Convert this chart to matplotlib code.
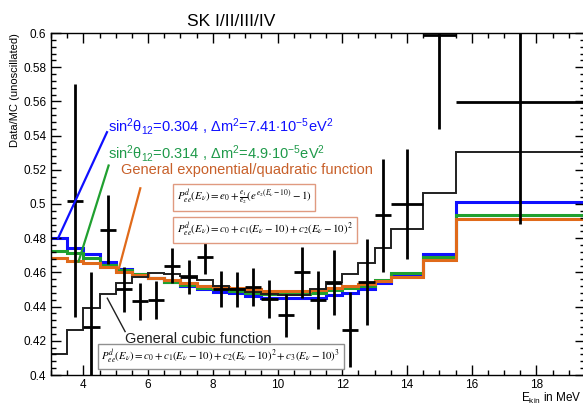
import matplotlib
matplotlib.use("Agg")
from matplotlib import pyplot as plt
from matplotlib.ticker import MultipleLocator, FormatStrFormatter

plt.rcParams['font.family'] = ['Liberation Sans', 'DejaVu Sans']
plt.rcParams['mathtext.fontset'] = 'custom'
plt.rcParams['mathtext.rm'] = 'Liberation Sans'
plt.rcParams['mathtext.it'] = 'Liberation Sans:italic'

# data points (SK I-IV Data/MC ratio)
dataX = [3.75, 4.25, 4.75, 5.25, 5.75, 6.25, 6.75, 7.25, 7.75, 8.25, 8.75, 9.25,
         9.75, 10.25, 10.75, 11.25, 11.75, 12.25, 12.75, 13.25, 14.0, 15.0, 17.5]
dataXErr = [0.25] * 20 + [0.5, 0.5, 2.0]
dataY = [0.502, 0.428, 0.485, 0.450, 0.443, 0.444, 0.464, 0.4575, 0.469, 0.4505,
         0.450, 0.4515, 0.4445, 0.435, 0.460, 0.444, 0.454, 0.4265, 0.4545, 0.4935,
         0.500, 0.599, 0.5595]
dataYErr = [0.068, 0.032, 0.020, 0.013, 0.011, 0.011, 0.010, 0.010, 0.010, 0.0105,
            0.0105, 0.011, 0.011, 0.0125, 0.015, 0.017, 0.019, 0.022, 0.025, 0.033,
            0.032, 0.055, 0.071]

# prediction histograms
binEdges = [3.0, 3.5, 4.0, 4.5, 5.0, 5.5, 6.0, 6.5, 7.0, 7.5, 8.0, 8.5, 9.0,
            9.5, 10.0, 10.5, 11.0, 11.5, 12.0, 12.5, 13.0, 13.5, 14.5, 15.5, 19.5]
blueMC = [0.480, 0.4745, 0.4705, 0.4663, 0.462, 0.459, 0.457, 0.4545, 0.452, 0.450,
          0.4487, 0.4478, 0.4464, 0.4452, 0.4448, 0.4448, 0.4450, 0.4468, 0.4478,
          0.4501, 0.4536, 0.4585, 0.4706, 0.5014]
greenMC = [0.4725, 0.4712, 0.4683, 0.4644, 0.4614, 0.4591, 0.4566, 0.4546, 0.4527,
           0.4507, 0.4500, 0.4493, 0.4482, 0.4476, 0.4474, 0.4474, 0.4480, 0.4497,
           0.4508, 0.4522, 0.4556, 0.4597, 0.4690, 0.4938]
orangeMC = [0.4683, 0.4667, 0.4653, 0.4634, 0.4605, 0.4585, 0.4566, 0.4553, 0.4537,
            0.4521, 0.4514, 0.4508, 0.4500, 0.4493, 0.4490, 0.4490, 0.4495, 0.4508,
            0.4520, 0.4535, 0.4550, 0.4575, 0.4673, 0.4914]
cubicMC = [0.4123, 0.4263, 0.4390, 0.4474, 0.4536, 0.4571, 0.4595, 0.4592, 0.4580,
           0.4555, 0.4522, 0.4500, 0.4485, 0.4472, 0.4465, 0.4468, 0.4500, 0.4546,
           0.4591, 0.4653, 0.4741, 0.4855, 0.5063, 0.5302]

blueCol = '#1010ff'
greenCol = '#20a030'
orangeCol = '#e06a1a'
orangeText = '#c8602a'
greenText = '#1f9a4a'

fig = plt.figure(figsize=(5.83, 4.03), dpi=100)
ax = fig.add_axes([51 / 583, 28 / 403, 534 / 583, 342 / 403])

ax.stairs(blueMC, binEdges, color=blueCol, lw=2.2, baseline=None)
ax.stairs(greenMC, binEdges, color=greenCol, lw=2.2, baseline=None)
ax.stairs(orangeMC, binEdges, color=orangeCol, lw=2.2, baseline=None)
ax.stairs(cubicMC, binEdges, color='#202020', lw=1.4, baseline=None)
ax.errorbar(dataX, dataY, xerr=dataXErr, yerr=dataYErr, fmt='none',
            ecolor='black', elinewidth=2, capsize=0)

ax.set_xlim(3, 19.5)
ax.set_ylim(0.4, 0.6)
ax.xaxis.set_major_locator(MultipleLocator(2))
ax.xaxis.set_minor_locator(MultipleLocator(0.5))
ax.yaxis.set_major_locator(MultipleLocator(0.02))
ax.yaxis.set_minor_locator(MultipleLocator(0.004))
ax.yaxis.set_major_formatter(FormatStrFormatter('%g'))
ax.tick_params(which='both', direction='in', top=True, right=True, labelsize=8.5)
ax.tick_params(which='major', length=7, width=1)
ax.tick_params(which='minor', length=3.5, width=1)
ax.tick_params(axis='x', pad=3)
for s in ax.spines.values():
    s.set_linewidth(1)

# labels for the curves, with pointer lines
ax.plot([3.22, 4.73], [0.480, 0.542], color=blueCol, lw=1.6)
ax.plot([3.85, 4.78], [0.4663, 0.5225], color=greenCol, lw=1.6)
ax.plot([5.1, 5.76], [0.4624, 0.5092], color=orangeCol, lw=1.6)
ax.plot([4.74, 5.29], [0.4449, 0.4254], color='#202020', lw=1)

ax.text(4.77, 0.5425,
        r'sin$\mathrm{^2\theta_{12}}$=0.304 , $\mathrm{\Delta}$m$\mathrm{^2}$=7.41$\mathrm{\cdot}$10$\mathrm{^{-5}}$eV$\mathrm{^2}$',
        color=blueCol, fontsize=10.5, va='baseline')
ax.text(4.77, 0.5267,
        r'sin$\mathrm{^2\theta_{12}}$=0.314 , $\mathrm{\Delta}$m$\mathrm{^2}$=4.9$\mathrm{\cdot}$10$\mathrm{^{-5}}$eV$\mathrm{^2}$',
        color=greenText, fontsize=10.5, va='baseline')
ax.text(5.16, 0.5175, 'General exponential/quadratic function',
        color=orangeText, fontsize=10.5, va='baseline')
ax.text(5.29, 0.4189, 'General cubic function',
        color='#202020', fontsize=10.5, va='baseline')

# formula boxes
ax.text(8.96, 0.5038,
        r'$P^{d}_{ee}(E_{\nu})=e_{0}+\frac{e_{1}}{e_{2}}(e^{e_{2}(E_{\nu}-10)}-1)$',
        math_fontfamily='stix', fontsize=7.8, ha='center', va='center',
        bbox=dict(boxstyle='square,pad=0.35', fc='white', ec='#e09a80', lw=1))
ax.text(9.61, 0.4848,
        r'$P^{d}_{ee}(E_{\nu})=c_{0}+c_{1}(E_{\nu}-10)+c_{2}(E_{\nu}-10)^{2}$',
        math_fontfamily='stix', fontsize=7.8, ha='center', va='center',
        bbox=dict(boxstyle='square,pad=0.35', fc='white', ec='#e09a80', lw=1))
ax.text(8.25, 0.4108,
        r'$P^{d}_{ee}(E_{\nu})=c_{0}+c_{1}(E_{\nu}-10)+c_{2}(E_{\nu}-10)^{2}+c_{3}(E_{\nu}-10)^{3}$',
        math_fontfamily='stix', fontsize=7.8, ha='center', va='center',
        bbox=dict(boxstyle='square,pad=0.3', fc='white', ec='#909090', lw=1))

fig.text(231 / 583, 1 - 21 / 403, 'SK I/II/III/IV', fontsize=12.5,
         ha='center', va='center')
fig.text(15 / 583, 1 - 33 / 403, 'Data/MC (unoscillated)', fontsize=8,
         rotation=90, ha='center', va='top')
fig.text(521 / 583, 1.5 / 403, r'E$\mathrm{_{kin}}$ in MeV', fontsize=8.5,
         ha='left', va='baseline')

fig.savefig('out.png', dpi=100)
